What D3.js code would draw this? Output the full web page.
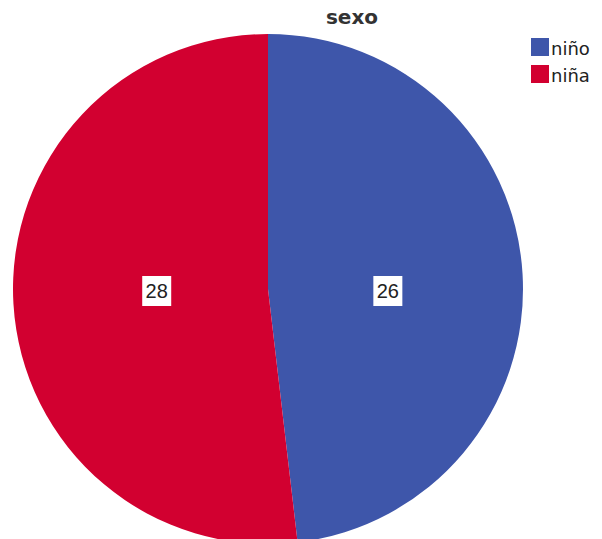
<!DOCTYPE html>
<html><head><meta charset="utf-8">
<script src="https://cdn.jsdelivr.net/npm/d3@7"></script>
<style>body{margin:0;background:#fff}</style>
</head><body>
<svg id="c" width="602" height="539"></svg>
<script>
const categories = ["niño", "niña"];
const values = [26, 28];
const colors = ["#3e56aa", "#d20030"];
const title = "sexo";

const svg = d3.select("#c");
const cx = 268, cy = 289, r = 255;
const pie = d3.pie().sort(null).value(d => d.v);
const data = pie(categories.map((c, i) => ({c, v: values[i], col: colors[i]})));
const arc = d3.arc().innerRadius(0).outerRadius(r);
const g = svg.append("g").attr("transform", `translate(${cx},${cy})`);
g.selectAll("path").data(data).enter().append("path")
  .attr("d", arc).attr("fill", d => d.data.col);

// label x at (scaled) area centroid of the slice, vertically at centre
function labelPos(d) {
  const a = (d.endAngle - d.startAngle) / 2;
  const mid = (d.startAngle + d.endAngle) / 2;
  const dist = 1.07 * 2 * r * Math.sin(a) / (3 * a);
  return [dist * Math.sin(mid), 2];
}
const lab = g.selectAll("g.l").data(data).enter().append("g")
  .attr("transform", d => `translate(${labelPos(d)})`);
lab.append("rect").attr("x", -14.5).attr("y", -15).attr("width", 29).attr("height", 30).attr("fill", "#fff");
lab.append("text").attr("text-anchor", "middle").attr("dy", "0.36em")
  .style("font", "20px 'Liberation Sans', Arial, sans-serif").attr("fill", "#222")
  .text(d => d.data.v);

svg.append("text").attr("x", 352).attr("y", 24).attr("text-anchor", "middle")
  .style("font", "bold 20px 'DejaVu Sans', sans-serif").attr("fill", "#333").text(title);

const leg = svg.selectAll("g.leg").data(categories).enter().append("g")
  .attr("transform", (d, i) => `translate(531,${38 + i * 27})`);
leg.append("rect").attr("width", 18).attr("height", 18).attr("fill", (d, i) => colors[i]);
leg.append("text").attr("x", 20).attr("y", 17)
  .style("font", "18px 'DejaVu Sans', sans-serif").attr("fill", "#222").text(d => d);
</script>
</body></html>
